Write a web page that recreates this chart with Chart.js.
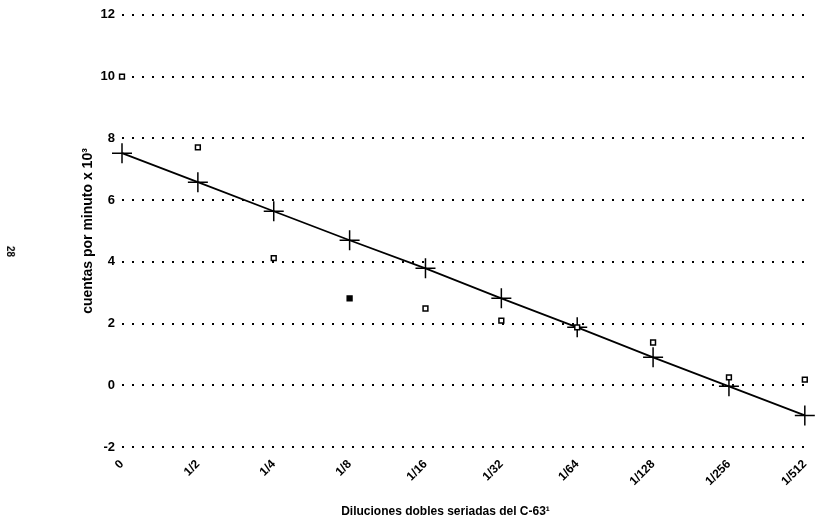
<!DOCTYPE html>
<html>
<head>
<meta charset="utf-8">
<script src="https://cdn.jsdelivr.net/npm/chart.js@4.4.0/dist/chart.umd.min.js"></script>
<style>
  body { margin: 0; background: #fff; }
  #wrap { position: relative; width: 817px; height: 525px; }
  #page { position: absolute; left: 5px; top: 246px; font: bold 10px "Liberation Sans", Arial, sans-serif; transform: rotate(90deg); }
</style>
</head>
<body>
<div id="wrap">
  <canvas id="myChart" width="817" height="525"></canvas>
  <div id="page">28</div>
</div>
<script>
// diluciones (eje x)
const dilutions = ['0', '1/2', '1/4', '1/8', '1/16', '1/32', '1/64', '1/128', '1/256', '1/512'];
// recta ajustada (cruces)
const fitted = [7.52, 6.58, 5.64, 4.70, 3.79, 2.82, 1.88, 0.91, -0.03, -0.97];
// valores medidos (cuadros)
const measured = [10.0, 7.71, 4.12, 2.82, 2.49, 2.1, 1.88, 1.39, 0.26, 0.19];
const filledPoint = [false, false, false, true, false, false, false, false, false, false];
const yTicks = [-2, 0, 2, 4, 6, 8, 10, 12];

const font = '"Liberation Sans", Arial, sans-serif';

const ctx = document.getElementById('myChart').getContext('2d');
const myChart = new Chart(ctx, {
  type: 'line',
  data: {
    labels: dilutions,
    datasets: [{
      label: 'medidos',
      data: measured,
      showLine: false,
      pointStyle: 'rect',
      pointRadius: 3.4,
      pointBorderWidth: 1.5,
      pointBorderColor: '#000',
      pointBackgroundColor: filledPoint.map(f => f ? '#000' : '#fff'),
      clip: false,
      order: 0
    }, {
      label: 'ajuste',
      data: fitted,
      borderColor: '#000',
      borderWidth: 1.8,
      pointStyle: 'cross',
      pointRadius: 10,
      pointBorderWidth: 1.5,
      pointBorderColor: '#000',
      fill: false,
      clip: false,
      order: 1
    }]
  },
  options: {
    responsive: false,
    animation: false,
    layout: { padding: { left: 80, right: 6, top: 14, bottom: 0 } },
    plugins: {
      legend: { display: false },
      tooltip: { enabled: false },
      title: {
        display: true,
        position: 'bottom',
        text: 'Diluciones dobles seriadas del C-63¹',
        color: '#000',
        font: { family: font, size: 12, weight: 'bold' },
        padding: { top: 4, bottom: 6 }
      }
    },
    scales: {
      x: {
        type: 'category',
        offset: false,
        grid: { display: false },
        border: { display: false },
        ticks: {
          color: '#000',
          maxRotation: 45,
          minRotation: 45,
          autoSkip: false,
          padding: 2,
          font: { family: font, size: 12, weight: 'bold' }
        },
        afterFit: function(scale) { scale.height = 53.4; }
      },
      y: {
        min: -2,
        max: 12,
        afterBuildTicks: function(scale) { scale.ticks = yTicks.map(v => ({ value: v })); },
        grid: { color: '#000', lineWidth: 2, drawTicks: false },
        border: { display: false, dash: [2, 8] },
        ticks: {
          color: '#000',
          padding: 7,
          font: { family: font, size: 13, weight: 'bold' }
        },
        title: {
          display: true,
          text: 'cuentas por minuto x 10³',
          color: '#000',
          padding: 0,
          font: { family: font, size: 14, weight: 'bold' }
        },
        afterFit: function(scale) { scale.width = 42; }
      }
    }
  }
});
</script>
</body>
</html>
